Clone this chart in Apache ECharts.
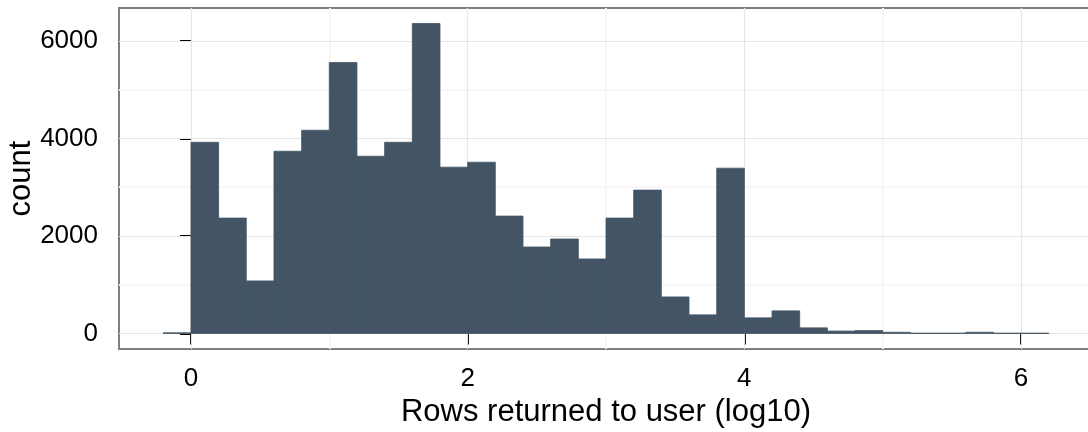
<!DOCTYPE html>
<html>
<head>
<meta charset="utf-8">
<title>Rows returned to user</title>
<script src="https://cdn.jsdelivr.net/npm/echarts@6/dist/echarts.min.js"></script>
<style>
  html, body { margin: 0; padding: 0; background: #ffffff; }
  #chart { width: 1088px; height: 432px; }
</style>
</head>
<body>
<div id="chart"></div>
<script>
// Histogram bins (log10 of rows returned), lower/upper edges
const binEdges = [-0.2, 0.0, 0.2, 0.4, 0.6, 0.8, 1.0, 1.2, 1.4, 1.6, 1.8, 2.0, 2.2, 2.4, 2.6, 2.8,
                  3.0, 3.2, 3.4, 3.6, 3.8, 4.0, 4.2, 4.4, 4.6, 4.8, 5.0, 5.2, 5.4, 5.6, 5.8, 6.0, 6.2];
// Count of queries in each bin
const counts = [15, 3920, 2366, 1078, 3736, 4166, 5556, 3634, 3920, 6354, 3409, 3511, 2407, 1773, 1937, 1528,
                2366, 2939, 750, 382, 3389, 321, 464, 116, 50, 60, 25, 8, 8, 25, 8, 8];

// Axis ticks and grid lines
const xMajorTicks = [0, 2, 4, 6];
const xMinorGrid = [1, 3, 5];
const yMajorTicks = [0, 2000, 4000, 6000];
const yMinorGrid = [1000, 3000, 5000];

const barColor = '#435565';
const font = 'Liberation Sans, Arial, Helvetica, sans-serif';

// Scale limits with a 5% pad on each side of the data range
const xLo = binEdges[0], xHi = binEdges[binEdges.length - 1];
const xPad = (xHi - xLo) * 0.05;
const yHi = Math.max(...counts);
const yPad = yHi * 0.05;

const histData = counts.map((c, i) => [binEdges[i], binEdges[i + 1], c]);

const gridLine = (key, v, color, width) => ({
  [key]: v,
  lineStyle: { color: color, width: width, type: 'solid' }
});

const chart = echarts.init(document.getElementById('chart'), null, { renderer: 'canvas' });
chart.setOption({
  animation: false,
  backgroundColor: '#ffffff',
  textStyle: { fontFamily: font },
  grid: {
    left: 119, top: 8, width: 974, height: 341,
    containLabel: false,
    outerBoundsMode: 'none',
    show: true, borderColor: '#7f7f7f', borderWidth: 2, backgroundColor: 'transparent'
  },
  xAxis: {
    type: 'value',
    min: xLo - xPad,
    max: xHi + xPad,
    name: 'Rows returned to user (log10)',
    nameLocation: 'middle',
    nameGap: 48,
    nameMoveOverlap: false,
    nameTextStyle: { fontSize: 31, color: '#000000', fontFamily: font },
    axisLine: { show: false },
    splitLine: { show: false },
    axisTick: {
      show: true, inside: false, length: 11, customValues: xMajorTicks,
      lineStyle: { color: '#000000', width: 2 }
    },
    axisLabel: {
      show: true, customValues: xMajorTicks, margin: 17,
      fontSize: 26, color: '#000000', fontFamily: font,
      formatter: v => String(v)
    }
  },
  yAxis: {
    type: 'value',
    min: -yPad,
    max: yHi + yPad,
    name: 'count',
    nameLocation: 'middle',
    nameGap: 82,
    nameMoveOverlap: false,
    nameTextStyle: { fontSize: 31, color: '#000000', fontFamily: font },
    axisLine: { show: false },
    splitLine: { show: false },
    axisTick: {
      show: true, inside: false, length: 11, customValues: yMajorTicks,
      lineStyle: { color: '#000000', width: 2 }
    },
    axisLabel: {
      show: true, customValues: yMajorTicks, margin: 21,
      fontSize: 26, color: '#000000', fontFamily: font,
      formatter: v => String(v)
    }
  },
  series: [
    {
      // panel grid lines, drawn beneath the bars
      type: 'line',
      data: [],
      z: 1,
      silent: true,
      markLine: {
        z: 1,
        silent: true,
        symbol: 'none',
        label: { show: false },
        emphasis: { disabled: true },
        data: [
          ...xMinorGrid.map(v => gridLine('xAxis', v, '#f7f7f7', 2)),
          ...yMinorGrid.map(v => gridLine('yAxis', v, '#f7f7f7', 2)),
          ...xMajorTicks.map(v => gridLine('xAxis', v, '#e5e5e5', 1.2)),
          ...yMajorTicks.map(v => gridLine('yAxis', v, '#e5e5e5', 1.2))
        ]
      }
    },
    {
      type: 'custom',
      z: 2,
      clip: true,
      encode: { x: [0, 1], y: 2 },
      data: histData,
      renderItem: function (params, api) {
        const p0 = api.coord([api.value(0), 0]);
        const p1 = api.coord([api.value(1), api.value(2)]);
        return {
          type: 'rect',
          shape: { x: p0[0], y: p1[1], width: p1[0] - p0[0], height: p0[1] - p1[1] },
          style: { fill: barColor, stroke: barColor, lineWidth: 0.8 }
        };
      }
    }
  ]
});
</script>
</body>
</html>
